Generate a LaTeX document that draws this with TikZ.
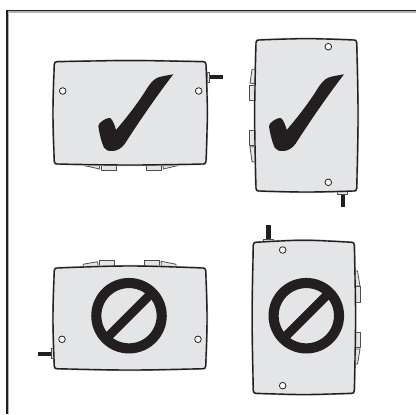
\documentclass[tikz,border=0pt]{standalone}
\definecolor{body}{HTML}{E4E5E7}
\definecolor{ink}{HTML}{231F20}
\tikzset{
  px/.style={x=0.75pt,y=-0.75pt},
  shell/.style={draw=ink,fill=body,line width=1.05pt,line join=round},
  edgeglow/.style={draw=gray!60,line width=1.6pt,line join=round},
  btn/.style={draw=ink!80,fill=body,line width=0.6pt,line join=round},
  hole/.style={draw=ink,fill=white,line width=0.6pt},
  wire/.style={draw=ink,line width=3.4pt},
  tickshape/.style={fill=ink,draw=none}
}
% left, top, right, bottom, left-mid, top-mid, right-mid, bottom-mid
\newcommand{\housing}[8]{%
  \def\hpath{({#1},{#2+3}) .. controls ({#1+1.33*(#5-#1)},{(#2+#4)/2}) .. ({#1},{#4-3})
    .. controls ({#1+0.3},{#4-0.5}) and ({#1+1},{#4}) .. ({#1+3},{#4})
    .. controls ({(#1+#3)/2},{#4+1.33*(#8-#4)}) .. ({#3-3},{#4})
    .. controls ({#3-1},{#4}) and ({#3-0.3},{#4-0.5}) .. ({#3},{#4-3})
    .. controls ({#3+1.33*(#7-#3)},{(#2+#4)/2}) .. ({#3},{#2+3})
    .. controls ({#3-0.3},{#2+0.5}) and ({#3-1},{#2}) .. ({#3-3},{#2})
    .. controls ({(#1+#3)/2},{#2+1.33*(#6-#2)}) .. ({#1+3},{#2})
    .. controls ({#1+1},{#2}) and ({#1+0.3},{#2+0.5}) .. ({#1},{#2+3}) -- cycle}%
  \path[edgeglow] \hpath;
  \path[shell] \hpath;
}
% tick drawn in units of the 3x crop, anchored at its tip (0,0)
\newcommand{\tick}[2]{%
  \begin{scope}[shift={(#1,#2)},x=0.25pt,y=-0.25pt]
    \path[tickshape] (0,0) .. controls (-18,3) and (-36,6) .. (-47,10)
      .. controls (-60,16) and (-68,26) .. (-78,41)
      .. controls (-105,85) and (-140,130) .. (-172,167)
      .. controls (-175,155) and (-180,140) .. (-188,132)
      .. controls (-195,128) and (-212,137) .. (-222,148)
      .. controls (-226,152) and (-225,158) .. (-224,163)
      .. controls (-220,185) and (-215,205) .. (-208,220)
      .. controls (-203,228) and (-195,231) .. (-180,230)
      .. controls (-168,229) and (-155,222) .. (-145,208)
      .. controls (-105,145) and (-50,65) .. (0,0) -- cycle;
  \end{scope}}
\newcommand{\nosign}[2]{%
  \begin{scope}[shift={(#1,#2)}]
    \draw[ink,line width=7.6pt] (0,0) circle (32.7);
    \draw[ink,line width=6.8pt] (-25,25) -- (25,-25);
  \end{scope}}
\begin{document}
\begin{tikzpicture}[px]
\useasboundingbox (0,0) rectangle (416,414);
\fill[white] (0,0) rectangle (416,414);
% frame
\draw[gray!60,line width=0.8pt] (8.8,414) -- (8.8,12) -- (416,12);
\draw[ink,line width=1.1pt] (7.2,414) -- (7.2,10.3) -- (416,10.3);

% device 1
\draw[wire] (208,77.2) -- (223,77.2);
\draw[btn] (207,72) rectangle (209.5,82);
\draw[btn] (84.3,162) -- (84.3,165.6) -- (99.8,169) -- (99,162) -- cycle;
\draw[btn] (101,164) rectangle (116,170);
\draw[btn] (146,164) rectangle (161,170);
\draw[btn] (162.7,162) -- (163.3,169) -- (177.7,165.6) -- (177.7,162) -- cycle;
\housing{54.3}{61.7}{206}{164}{53}{60.6}{207.3}{165}
\draw[hole] (62.7,91) circle (3.3);
\draw[hole] (198.7,91) circle (3.3);
\tick{173.3}{74.3}

% device 2
\draw[wire] (342.8,192) -- (342.8,206.7);
\draw[btn] (337.3,191) rectangle (347.3,194);
\draw[btn] (258,69.3) -- (252,69.3) -- (250,83.3) -- (258,83.5) -- cycle;
\draw[btn] (249.3,85) rectangle (256,100.3);
\draw[btn] (249.3,130) rectangle (256,145.3);
\draw[btn] (258,146.7) -- (250,146.7) -- (252,161.7) -- (258,161.7) -- cycle;
\housing{256}{40}{356.7}{191}{254.7}{38.7}{358}{192}
\draw[hole] (328.3,46.7) circle (3.3);
\draw[hole] (328.3,182.3) circle (3.3);
\tick{344}{74.3}

% device 3
\draw[wire] (38,353.8) -- (52,353.8);
\draw[btn] (51.3,348.3) rectangle (54,358.3);
\draw[btn] (83.3,264.2) -- (83.3,269) -- (98.3,269) -- (97.7,261.7) -- cycle;
\draw[btn] (99.3,260.7) rectangle (114.7,267);
\draw[btn] (144.3,260.7) rectangle (159.7,267);
\draw[btn] (161,261.3) -- (161.6,269) -- (176,269) -- (176,264.2) -- cycle;
\housing{54.3}{268}{205.7}{368.7}{53}{266}{207}{370}
\draw[hole] (62,339.3) circle (3.3);
\draw[hole] (198,339.3) circle (3.3);
\nosign{129}{315.7}

% device 4
\draw[wire] (268.3,225.3) -- (268.3,240);
\draw[btn] (263.3,239) rectangle (273.3,242.5);
\draw[btn] (357.5,271) -- (352,271) -- (352,286) -- (360,286) -- cycle;
\draw[btn] (354,286.7) rectangle (360,302.3);
\draw[btn] (354,332.3) rectangle (360,347.7);
\draw[btn] (360,349) -- (352,349) -- (352,364) -- (357.5,364) -- cycle;
\housing{253.3}{242.3}{354.3}{393.3}{252.2}{240.3}{355.5}{394.5}
\draw[hole] (282.7,250) circle (3.3);
\draw[hole] (282.7,385.7) circle (3.3);
\nosign{306.3}{315.7}
\end{tikzpicture}
\end{document}
